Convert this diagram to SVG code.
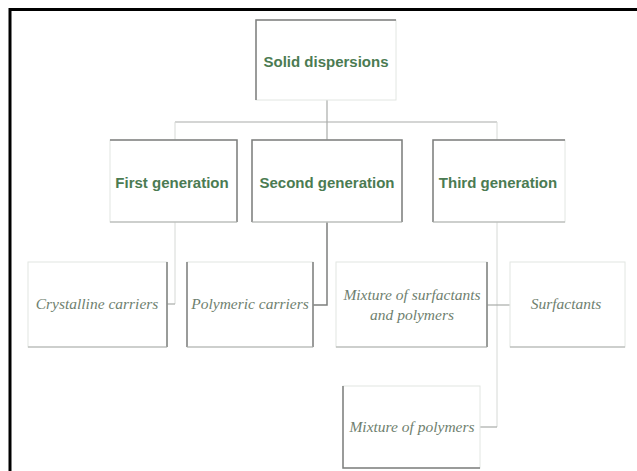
<svg xmlns="http://www.w3.org/2000/svg" width="637" height="471" viewBox="0 0 637 471">
<style>
.faint{fill:#fff;stroke:#e2e6e2;stroke-width:1}
.dark{stroke:#7d7f7d;stroke-width:1.5;fill:none}
.mid{stroke:#a9aca9;stroke-width:1.2;fill:none}
.lite{stroke:#d6d9d6;stroke-width:1;fill:none}
.h{font-family:"Liberation Sans",Arial,sans-serif;font-weight:bold;font-size:15px;fill:#4b7b52;text-anchor:middle}
.i{font-family:"Liberation Serif","Times New Roman",serif;font-style:italic;font-size:15.5px;fill:#6f7f6f;text-anchor:middle}
</style>
<rect x="0" y="0" width="637" height="471" fill="#fff"/>
<path d="M10,471 V9.5 H637" fill="none" stroke="#000" stroke-width="3"/>
<g id="connectors">
<path class="mid" d="M327,100 V140"/>
<path class="mid" d="M175,122 H497"/>
<path class="lite" d="M175,122 V140 M497,122 V140"/>
<path class="lite" d="M175,222 V304"/>
<path class="mid" d="M167,304 H175"/>
<path class="dark" d="M327,222 V305 H313"/>
<path class="lite" d="M497,222 V427"/>
<path class="mid" d="M487,305 H510"/>
<path class="mid" d="M480,427 H497"/>
</g>
<g id="n-solid">
<rect class="faint" x="256" y="20" width="140" height="80"/>
<path class="dark" d="M256,100 V20 H396"/>
<text class="h" x="326" y="67">Solid dispersions</text>
</g>
<g id="n-first">
<rect class="faint" x="110" y="140" width="127" height="82"/>
<path class="dark" d="M110,140 H237 V222"/>
<path class="mid" d="M110,222 H237"/>
<text class="h" x="172" y="188">First generation</text>
</g>
<g id="n-second">
<rect class="faint" x="252" y="140" width="150" height="82"/>
<path class="dark" d="M252,222 V140 H402 V222"/>
<path class="mid" d="M252,222 H402"/>
<text class="h" x="327" y="188">Second generation</text>
</g>
<g id="n-third">
<rect class="faint" x="433" y="140" width="132" height="82"/>
<path class="dark" d="M433,222 V140 H565"/>
<path class="mid" d="M433,222 H565"/>
<text class="h" x="498" y="188">Third generation</text>
</g>
<g id="n-crystalline">
<rect class="faint" x="28" y="262" width="139" height="85"/>
<path class="dark" d="M167,262 V347"/>
<path class="mid" d="M28,347 H167"/>
<text class="i" x="97" y="309">Crystalline carriers</text>
</g>
<g id="n-polymeric">
<rect class="faint" x="187" y="262" width="126" height="85"/>
<path class="dark" d="M187,262 V347 M313,262 V347"/>
<path class="mid" d="M187,347 H313"/>
<text class="i" x="250" y="309">Polymeric carriers</text>
</g>
<g id="n-mixsurf">
<rect class="faint" x="336" y="262" width="151" height="85"/>
<path class="dark" d="M487,262 V347"/>
<path class="mid" d="M336,347 H487"/>
<text class="i" x="412" y="300">Mixture of surfactants</text>
<text class="i" x="412" y="320">and polymers</text>
</g>
<g id="n-surfactants">
<rect class="faint" x="510" y="262" width="115" height="85"/>
<path class="mid" d="M510,347 H625"/>
<text class="i" x="566" y="309">Surfactants</text>
</g>
<g id="n-mixpoly">
<rect class="faint" x="343" y="386" width="137" height="82"/>
<path class="dark" d="M343,386 V468 H480"/>
<text class="i" x="412" y="432">Mixture of polymers</text>
</g>
</svg>
